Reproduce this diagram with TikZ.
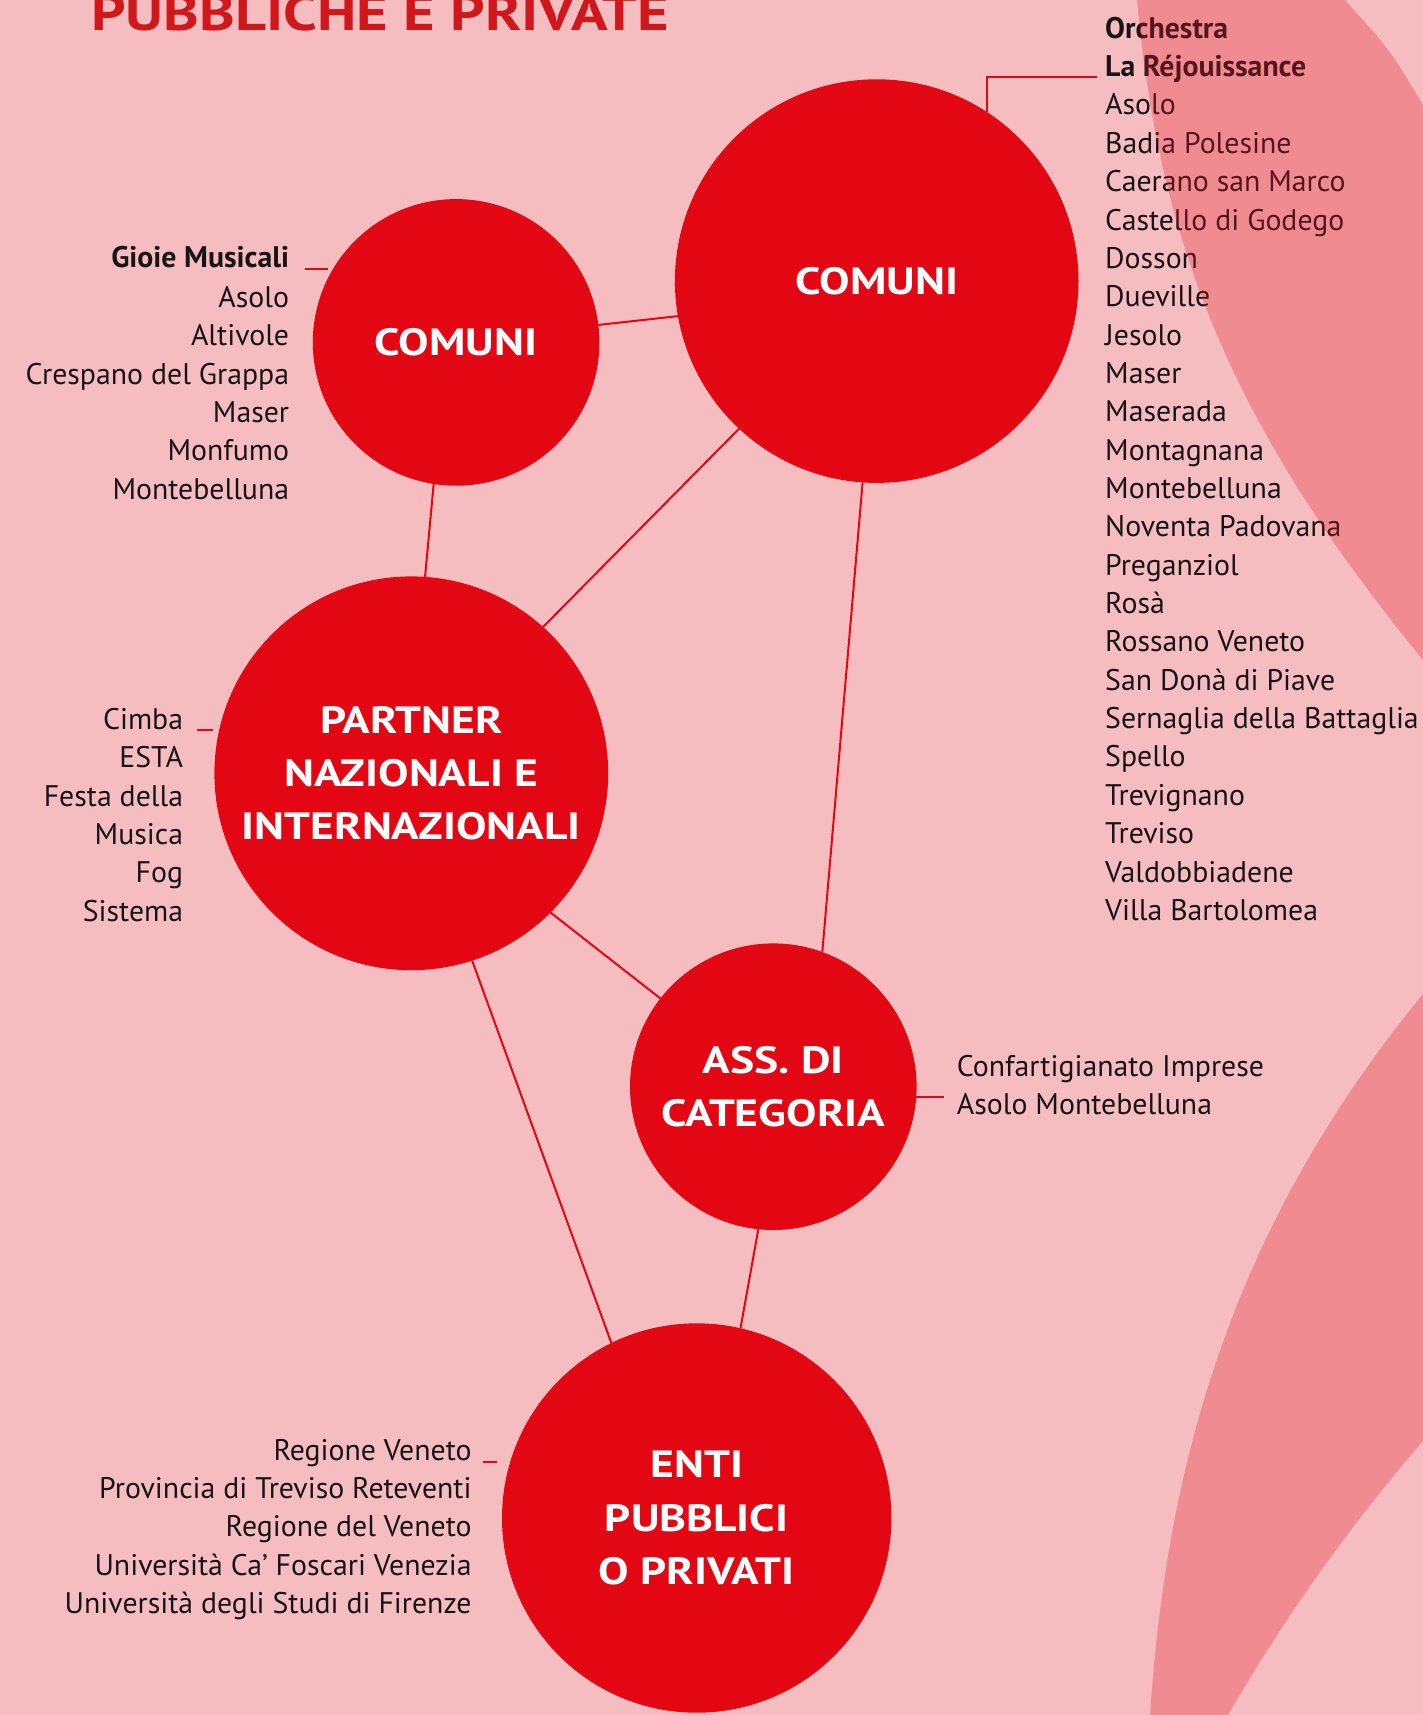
\documentclass[tikz,border=0pt]{standalone}
\usepackage{fontspec}
\setmainfont{PT Sans}
\newfontfamily\widefamily[FakeStretch=1.2]{PT Sans}
\usepackage{xcolor}
\usepackage{tikz}
\definecolor{retered}{RGB}{227, 6, 19}
\definecolor{retetitle}{RGB}{208, 24, 28}
\definecolor{retepink}{RGB}{245, 189, 192}
\definecolor{reteshade}{RGB}{228, 26, 39}
\definecolor{retetext}{RGB}{24, 20, 22}
\usetikzlibrary{positioning}

\newcommand{\itemfont}{\fontsize{29.8}{38.4}\selectfont}
\newcommand{\hubfont}{\fontsize{38}{53.3}\selectfont\widefamily\bfseries}
\tikzset{
  hub/.style={circle, fill=retered, text=white, font=\hubfont, align=center, inner sep=0pt, outer sep=0pt},
  link/.style={draw=retered, line width=2pt},
  tick/.style={draw=retered, line width=2pt},
  item/.style={inner sep=0pt, text=retetext, font=\itemfont},
  lead/.style={item, font=\itemfont\bfseries},
  shade/.style={fill=reteshade, opacity=0.3},
}

\begin{document}
\begin{tikzpicture}[x=1pt, y=-1pt]
    % Page
    \fill[retepink] (0,0) rectangle (1423,1715);
    \useasboundingbox (0,0) rectangle (1423,1715);

    % Title (cut at the top)
    \node[anchor=base west, inner sep=0pt, text=retetitle, font=\fontsize{50.4}{60}\selectfont\widefamily\bfseries] (title) at (91,31) {PUBBLICHE E PRIVATE};

    % Hubs
    \node[hub, minimum size=286.6pt] (cs) at (456.1,342.4) {COMUNI};
    \node[hub, minimum size=403.6pt] (cb) at (876.7,281.1) {COMUNI};
    \node[hub, minimum size=393.8pt] (pt) at (411.3,773.3) {PARTNER\\NAZIONALI E\\INTERNAZIONALI};
    \node[hub, minimum size=286.6pt] (ac) at (773.3,1086.7) {ASS. DI\\CATEGORIA};
    \node[hub, minimum size=389.4pt] (ep) at (696.7,1518) {ENTI\\PUBBLICI\\O PRIVATI};

    % Links between hubs
    \draw[link] (cs.7) -- (cb.190);
    \draw[link] (cs.261) -- (pt.86);
    \draw[link] (cb.227) -- (pt.48);
    \draw[link] (cb.266) -- (ac.70);
    \draw[link] (pt.315) -- (ac.142);
    \draw[link] (pt.288) -- (ep.116);
    \draw[link] (ac.264) -- (ep.77);

    % Comuni (big)
    \node[lead, anchor=base west] (orch) at (1105,38.3) {Orchestra};
    \node[lead, anchor=base west] (rej) at (1105,76.6) {La Réjouissance};
    \foreach \t [count=\i] in {Asolo, Badia Polesine, Caerano san Marco, Castello di Godego, Dosson, Dueville, Jesolo, Maser, Maserada, Montagnana, Montebelluna, Noventa Padovana, Preganziol, Rosà, Rossano Veneto, San Donà di Piave, Sernaglia della Battaglia, Spello, Trevignano, Treviso, Valdobbiadene, Villa Bartolomea}
        \node[item, anchor=base west] (cbl-\i) at (1105,{115+38.35*(\i-1)}) {\t};
    \draw[tick] (cb.57) |- ([xshift=-8pt]rej.base west);

    % Comuni (small)
    \node[lead, anchor=base east] (gioie) at (289.3,267.7) {Gioie Musicali};
    \foreach \t [count=\i] in {Asolo, Altivole, Crespano del Grappa, Maser, Monfumo, Montebelluna}
        \node[item, anchor=base east] (csl-\i) at (289.3,{307.3+38.4*(\i-1)}) {\t};
    \draw[tick] ([xshift=15.7pt,yshift=-1.5pt]gioie.base east) -- ++(23,0);

    % Partner
    \foreach \t [count=\i] in {Cimba, ESTA, Festa della, Musica, Fog, Sistema}
        \node[item, anchor=base east] (ptl-\i) at (183.3,{729.3+38.35*(\i-1)}) {\t};
    \draw[tick] ([xshift=14pt,yshift=-1pt]ptl-1.base east) -- ++(16,0);

    % Ass. di categoria
    \node[item, anchor=base west] (acl-1) at (956.7,1076) {Confartigianato Imprese};
    \node[item, anchor=base west] (acl-2) at (956.7,1114) {Asolo Montebelluna};
    \draw[tick] (ac.-4) -- ++(28,0);

    % Enti
    \foreach \t [count=\i] in {Regione Veneto, Provincia di Treviso Reteventi, Regione del Veneto, Università Ca’ Foscari Venezia, Università degli Studi di Firenze}
        \node[item, anchor=base east] (epl-\i) at (471.7,{1460+38.35*(\i-1)}) {\t};
    \draw[tick] ([xshift=11.6pt,yshift=-2pt]epl-1.base east) -- ++(13.4,0);

    % Shapes over the page
    \fill[shade] (1137,0) .. controls (1160,250) and (1235,430) .. (1423,660) -- (1423,105) .. controls (1390,50) .. (1345,0) -- cycle;
    \fill[shade] (1423,994) .. controls (1226,1234) and (1166,1475) .. (1150,1715) -- (1228,1715) .. controls (1280,1625) and (1345,1531) .. (1423,1441) -- cycle;
\end{tikzpicture}
\end{document}
